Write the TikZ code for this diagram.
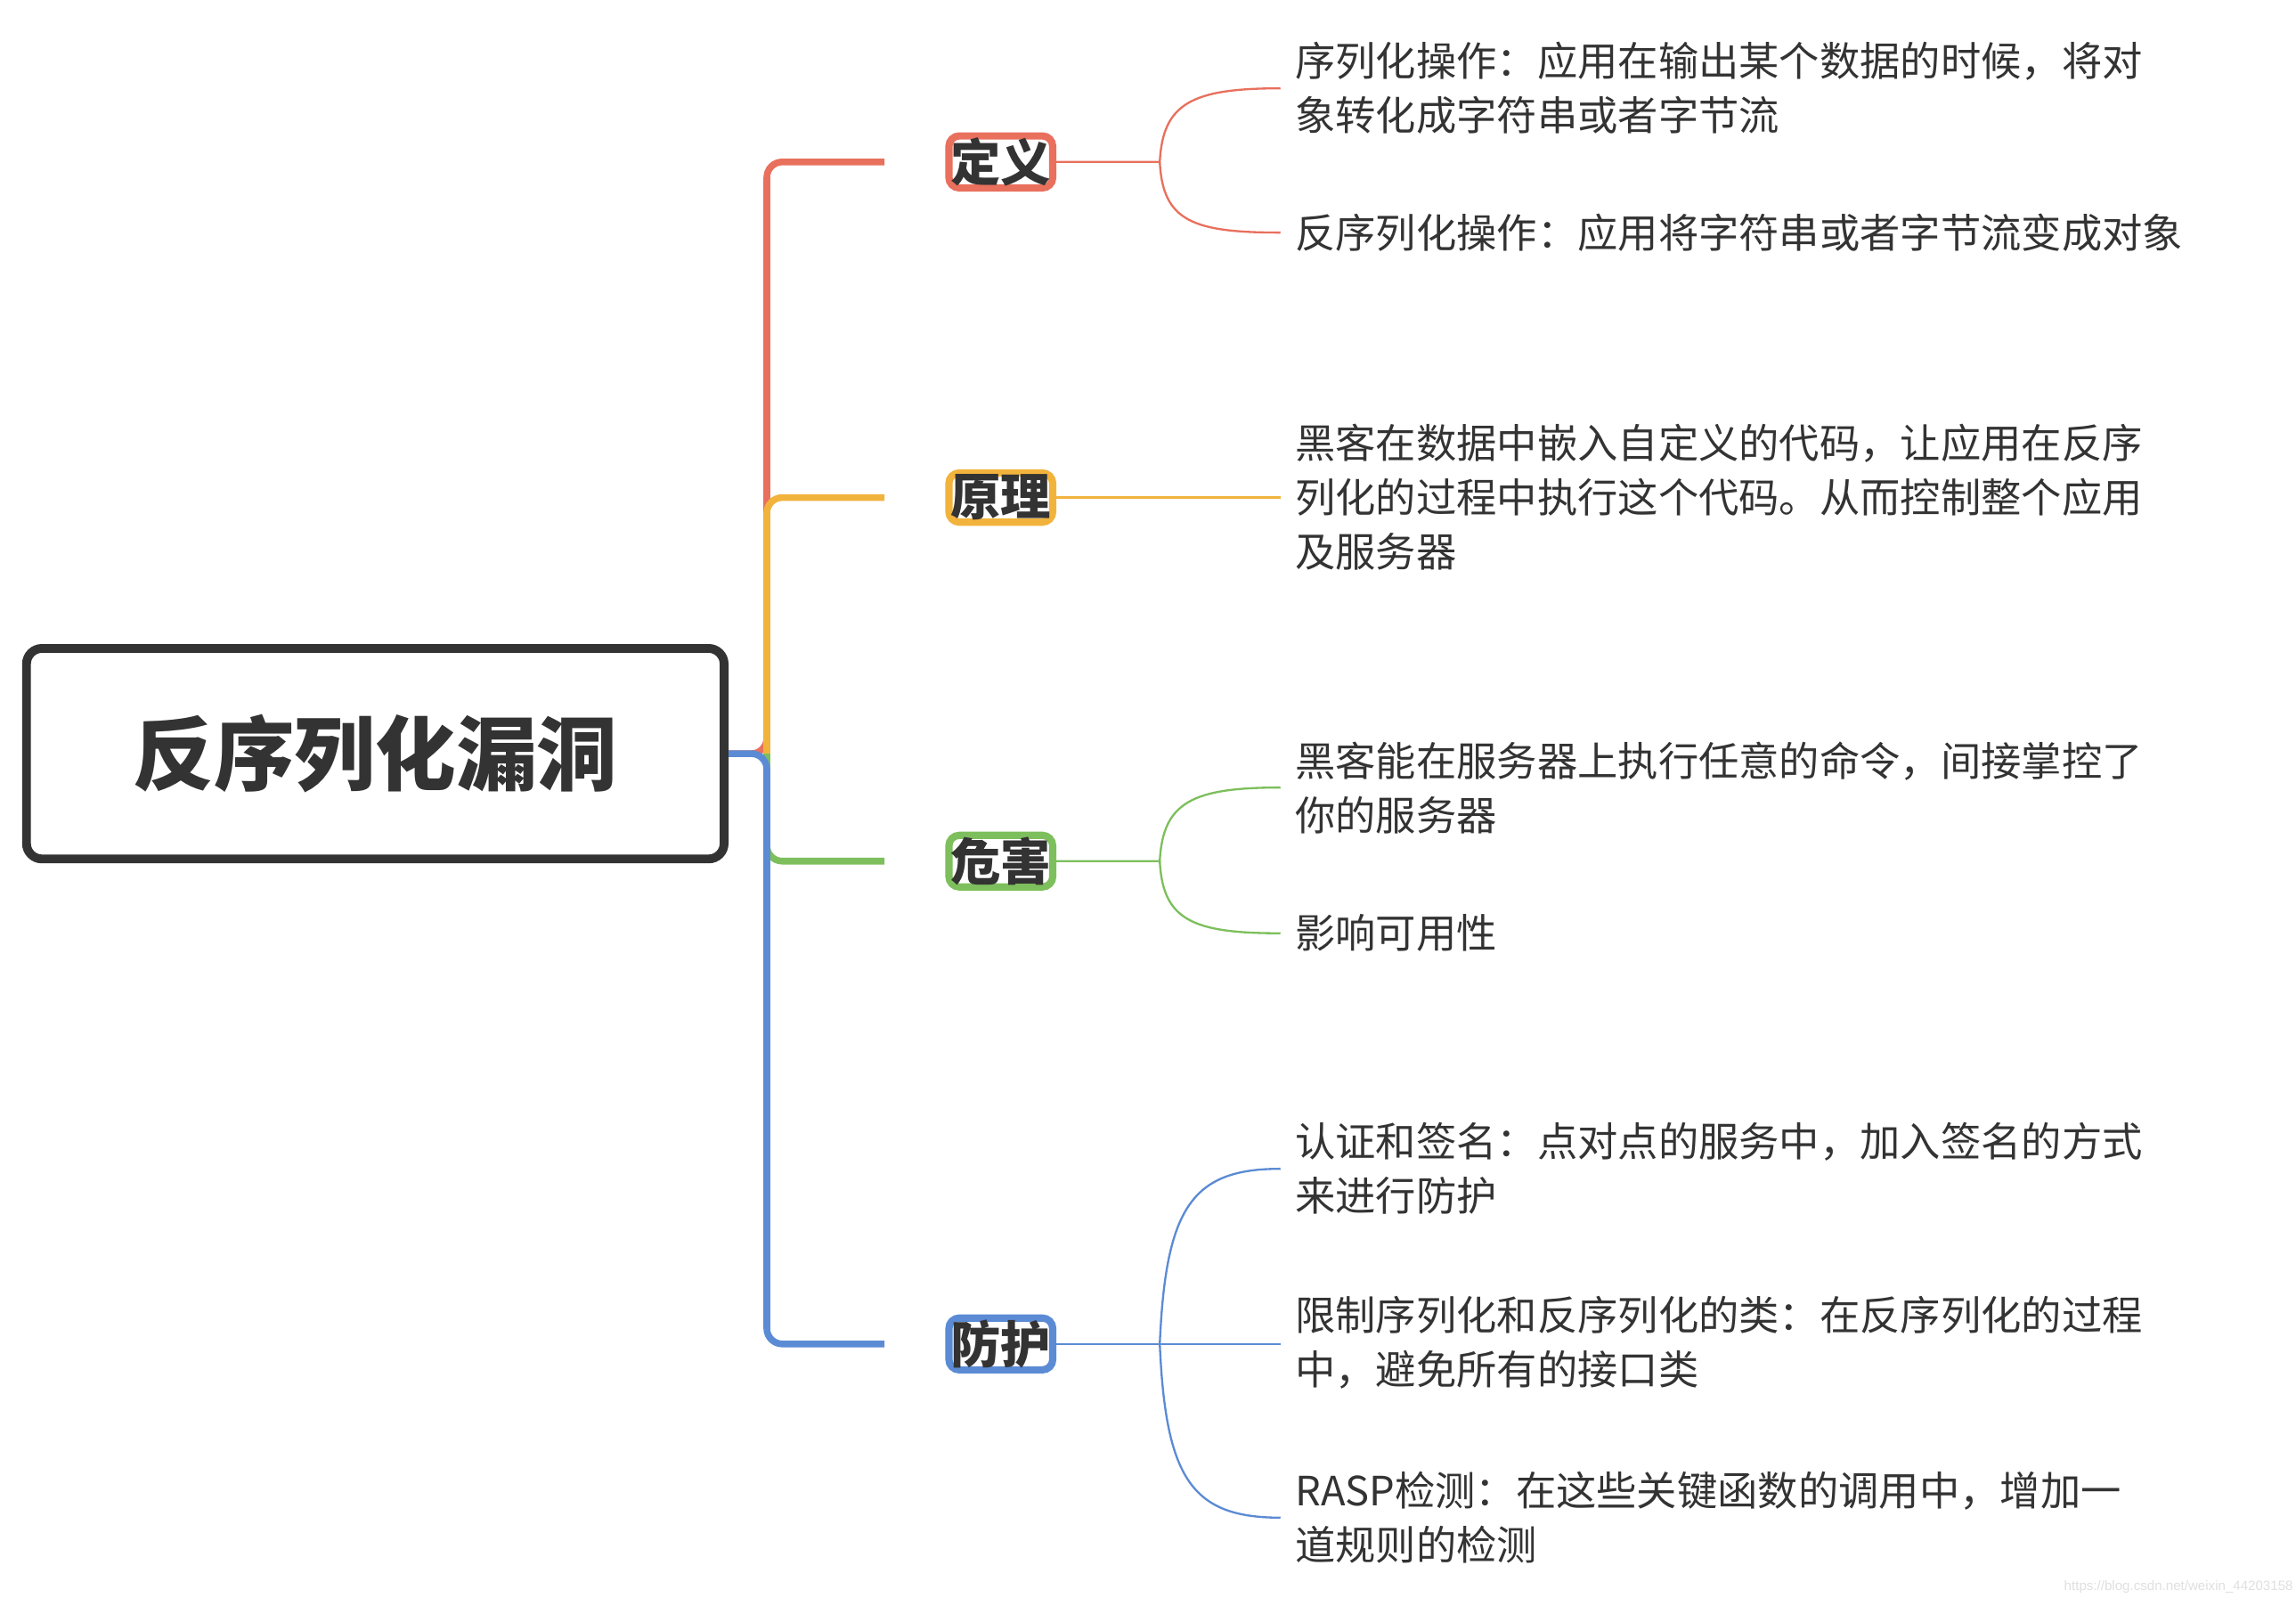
\documentclass[tikz,border=0pt]{standalone}
\usepackage{fontspec}
\setmainfont{Noto Sans CJK SC}
\newfontfamily\wm{Liberation Sans}
\begin{document}
\begin{tikzpicture}[x=0.1cm,y=-0.1cm]
\definecolor{cred}{HTML}{E8705D}\definecolor{cora}{HTML}{F2B33D}
\definecolor{cgrn}{HTML}{7DBF5C}\definecolor{cblu}{HTML}{5B8BD4}
\definecolor{ink}{HTML}{333333}
\tikzset{br/.style={draw=#1,line width=14pt,rounded corners=20pt,minimum width=45mm-14pt,minimum height=28mm-14pt,font=\fontsize{97}{110}\selectfont\bfseries,text=ink,fill=white},
 leaf/.style={anchor=west,align=left,font=\fontsize{78}{105}\selectfont,text=ink,inner sep=0pt},
 main/.style={draw=#1,line width=13pt,rounded corners=30pt},
 thin/.style={draw=#1,line width=4pt}}
\useasboundingbox (0,0) rectangle (1560,1085);
\fill[white] (0,0) rectangle (1560,1085);
\node[draw=ink,line width=17pt,rounded corners=30pt,minimum width=48cm-17pt,minimum height=14.9cm-17pt,font=\fontsize{156}{170}\selectfont\bfseries,text=ink] (root) at (255,512) {反序列化漏洞};
\coordinate (j) at (521,512);
\draw[main=cred] (root.east) -- (j) |- (601,110);
\draw[main=cora] (j) |- (601,338);
\draw[main=cgrn] (j) |- (601,585);
\draw[main=cblu] (root.east) -- (j) |- (601,913);
\node[br=cred] (a) at (680,110) {定义};
\node[br=cora] (b) at (680,338) {原理};
\node[br=cgrn] (c) at (680,585) {危害};
\node[br=cblu] (d) at (680,913) {防护};
% leaves
\node[leaf] (a1) at (880,60) {序列化操作：应用在输出某个数据的时候，将对\\象转化成字符串或者字节流};
\node[leaf] (a2) at (880,158) {反序列化操作：应用将字符串或者字节流变成对象};
\node[leaf] (b1) at (880,338) {黑客在数据中嵌入自定义的代码，让应用在反序\\列化的过程中执行这个代码。从而控制整个应用\\及服务器};
\node[leaf] (c1) at (880,535) {黑客能在服务器上执行任意的命令，间接掌控了\\你的服务器};
\node[leaf] (c2) at (880,634) {影响可用性};
\node[leaf] (d1) at (880,794) {认证和签名：点对点的服务中，加入签名的方式\\来进行防护};
\node[leaf] (d2) at (880,912) {限制序列化和反序列化的类：在反序列化的过程\\中，避免所有的接口类};
\node[leaf] (d3) at (880,1031) {RASP检测：在这些关键函数的调用中，增加一\\道规则的检测};
\draw[thin=cred] (a.east) -- (788,110) .. controls (790,70) and (810,60) .. (870,60);
\draw[thin=cred] (788,110) .. controls (790,150) and (810,158) .. (870,158);
\draw[thin=cora] (b.east) -- (870,338);
\draw[thin=cgrn] (c.east) -- (788,585) .. controls (790,545) and (810,535) .. (870,535);
\draw[thin=cgrn] (788,585) .. controls (790,625) and (810,634) .. (870,634);
\draw[thin=cblu] (d.east) -- (870,913);
\draw[thin=cblu] (788,913) .. controls (792,820) and (810,794) .. (870,794);
\draw[thin=cblu] (788,913) .. controls (792,1005) and (810,1031) .. (870,1031);
\node[anchor=east,text=black!12,font=\wm\fontsize{26}{28}\selectfont,inner sep=0pt] (wmk) at (1558,1078) {https://blog.csdn.net/weixin\_44203158};
\end{tikzpicture}
\end{document}
